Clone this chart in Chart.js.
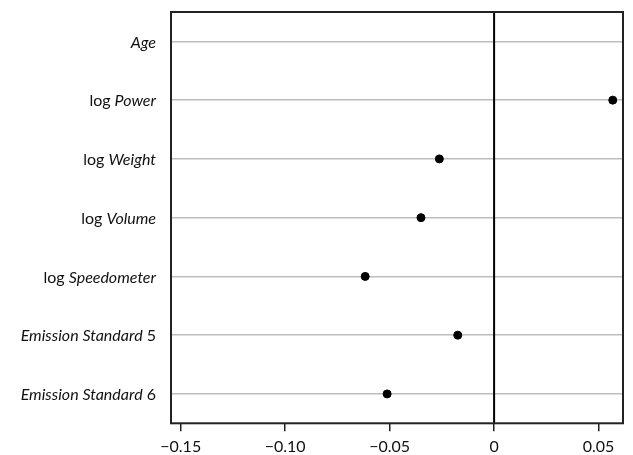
<!DOCTYPE html>
<html>
<head>
<meta charset="utf-8">
<script src="https://cdn.jsdelivr.net/npm/chart.js@4.4.0/dist/chart.umd.min.js"></script>
<style>
  html, body { margin: 0; padding: 0; background: #fff; }
  #wrap { width: 633px; height: 455px; position: relative; }
</style>
</head>
<body>
<div id="wrap"><canvas id="coefChart"></canvas></div>
<script>
// row labels: plain prefix, italic name, plain suffix
const labelPrefix = ["", "log ", "log ", "log ", "log ", "", ""];
const labelItalic = ["Age", "Power", "Weight", "Volume", "Speedometer", "Emission Standard", "Emission Standard"];
const labelSuffix = ["", "", "", "", "", " 5", " 6"];
// estimated coefficients (Age has no point)
const coefValues = [null, 0.0568, -0.0262, -0.0350, -0.0617, -0.0174, -0.0512];
const xTicks = [-0.15, -0.10, -0.05, 0, 0.05];

const fontFam = "Lato, 'Open Sans', sans-serif";

const points = coefValues.map((v, i) => (v === null ? null : {x: v, y: i})).filter(p => p);

const framePlugin = {
  id: "frame",
  beforeDatasetsDraw(chart) {
    const {ctx, chartArea} = chart;
    const xs = chart.scales.x;
    ctx.save();
    // zero line
    const x0 = xs.getPixelForValue(0);
    ctx.strokeStyle = "#000";
    ctx.lineWidth = 2;
    ctx.beginPath();
    ctx.moveTo(x0, chartArea.top);
    ctx.lineTo(x0, chartArea.bottom);
    ctx.stroke();
    // box
    ctx.strokeStyle = "#222";
    ctx.lineWidth = 2;
    ctx.strokeRect(chartArea.left, chartArea.top, chartArea.right - chartArea.left, chartArea.bottom - chartArea.top);
    ctx.restore();
  },
  afterDraw(chart) {
    const {ctx} = chart;
    const ys = chart.scales.y;
    const right = chart.chartArea.left - 15;
    ctx.save();
    ctx.fillStyle = "#111";
    ctx.textBaseline = "middle";
    labelItalic.forEach((name, i) => {
      const y = ys.getPixelForValue(i) + 1;
      const plain = "16px " + fontFam;
      const ital = "italic 16px " + fontFam;
      ctx.font = plain;
      const wPre = ctx.measureText(labelPrefix[i]).width;
      const wSuf = ctx.measureText(labelSuffix[i]).width;
      ctx.font = ital;
      const wIt = ctx.measureText(name).width;
      let x = right - wPre - wIt - wSuf;
      ctx.textAlign = "left";
      ctx.font = plain;
      ctx.fillText(labelPrefix[i], x, y);
      x += wPre;
      ctx.font = ital;
      ctx.fillText(name, x, y);
      x += wIt;
      ctx.font = plain;
      ctx.fillText(labelSuffix[i], x, y);
    });
    ctx.restore();
  }
};

new Chart(document.getElementById("coefChart"), {
  type: "scatter",
  data: {
    datasets: [{
      data: points,
      backgroundColor: "#000",
      borderColor: "#000",
      pointRadius: 4,
      pointHoverRadius: 4
    }]
  },
  options: {
    responsive: true,
    maintainAspectRatio: false,
    animation: false,
    layout: {padding: {left: 171, right: 10, top: 12, bottom: -7.5}},
    plugins: {legend: {display: false}, tooltip: {enabled: false}},
    scales: {
      x: {
        type: "linear",
        min: -0.15465,
        max: 0.0617,
        afterBuildTicks: (scale) => { scale.ticks = xTicks.map(v => ({value: v})); },
        grid: {drawOnChartArea: false, drawTicks: true, tickLength: 8, color: "#222", lineWidth: 1.5},
        border: {display: false},
        ticks: {
          color: "#111",
          padding: 6,
          maxRotation: 0,
          font: {family: fontFam, size: 16},
          callback: (v) => (v === 0 ? "0" : v.toFixed(2).replace("-", "\u2212"))
        }
      },
      y: {
        type: "linear",
        reverse: true,
        min: -0.5,
        max: 6.5,
        afterBuildTicks: (scale) => { scale.ticks = labelItalic.map((_, i) => ({value: i})); },
        grid: {color: "#bdbdbd", lineWidth: 1.5, drawTicks: false},
        border: {display: false},
        ticks: {display: false}
      }
    }
  },
  plugins: [framePlugin]
});
</script>
</body>
</html>
